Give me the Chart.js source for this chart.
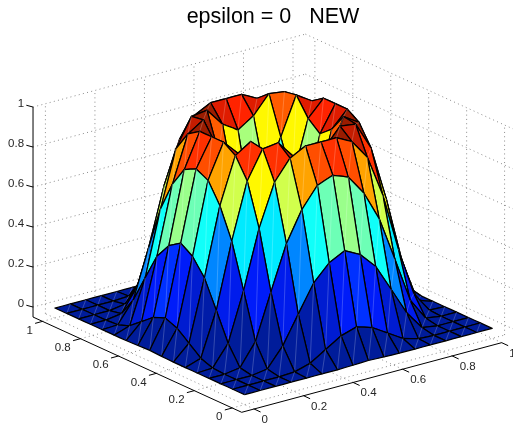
<!DOCTYPE html>
<html>
<head>
<meta charset="utf-8">
<style>
  html, body { margin: 0; padding: 0; background: #fff; }
  canvas { display: block; }
</style>
<script src="https://cdn.jsdelivr.net/npm/chart.js@4/dist/chart.umd.min.js"></script>
</head>
<body>
<canvas id="surf" width="513" height="424"></canvas>
<script>
const titleText = 'epsilon = 0   NEW';
const xTicks = [0, 0.2, 0.4, 0.6, 0.8, 1];
const yTicks = [0, 0.2, 0.4, 0.6, 0.8, 1];
const zTicks = [0, 0.2, 0.4, 0.6, 0.8, 1];
const gridStep = 0.0625;

// heights, one row per x, left to right is y = 0..1
const z00 = [0, 0, 0, 0, 0, 0, 0, .002, .005, .002, 0, 0, 0, 0, 0, 0, 0];
const z01 = [0, 0, 0, 0, .004, .026, .074, .122, .146, .122, .074, .026, .004, 0, 0, 0, 0];
const z02 = [0, 0, 0, .012, .107, .245, .38, .46, .50, .46, .38, .245, .107, .012, 0, 0, 0];
const z03 = [0, 0, .012, .122, .35, .57, .72, .82, .85, .82, .72, .57, .35, .122, .012, 0, 0];
const z04 = [0, .004, .107, .35, .64, .85, .95, .99, .99, .99, .95, .85, .64, .35, .107, .004, 0];
const z05 = [0, .026, .245, .57, .85, .99, 1, .91, .86, .91, 1, .99, .85, .57, .245, .026, 0];
const z06 = [0, .074, .38, .72, .95, 1, .81, .63, .53, .63, .81, 1, .95, .72, .38, .074, 0];
const z07 = [.002, .122, .46, .82, .99, .91, .63, .40, .30, .40, .63, .91, .99, .82, .46, .122, .002];
const z08 = [.005, .146, .50, .85, .99, .86, .53, .30, .25, .30, .53, .86, .99, .85, .50, .146, .005];
const z09 = [.002, .122, .46, .82, .99, .91, .63, .40, .30, .40, .63, .91, .99, .82, .46, .122, .002];
const z10 = [0, .074, .38, .72, .95, 1, .81, .63, .53, .63, .81, 1, .95, .72, .38, .074, 0];
const z11 = [0, .026, .245, .57, .85, .99, 1, .91, .86, .91, 1, .99, .85, .57, .245, .026, 0];
const z12 = [0, .004, .107, .35, .64, .85, .95, .99, .99, .99, .95, .85, .64, .35, .107, .004, 0];
const z13 = [0, 0, .012, .122, .35, .57, .72, .82, .85, .82, .72, .57, .35, .122, .012, 0, 0];
const z14 = [0, 0, 0, .012, .107, .245, .38, .46, .50, .46, .38, .245, .107, .012, 0, 0, 0];
const z15 = [0, 0, 0, 0, .004, .026, .074, .122, .146, .122, .074, .026, .004, 0, 0, 0, 0];
const z16 = [0, 0, 0, 0, 0, 0, 0, .002, .005, .002, 0, 0, 0, 0, 0, 0, 0];
const zRows = [z00, z01, z02, z03, z04, z05, z06, z07, z08, z09, z10, z11, z12, z13, z14, z15, z16];

// box limits and the fixed view of the 3d box
const LO = -0.05, HI = 1.05, ZLO = -0.05, ZHI = 1;
const BASE = [241.7, 412.3];
const EX = [247.6, -66.3];
const EY = [-189.7, -86.6];
const EZ = -200;

function project(x, y, z) {
    const dx = x - LO, dy = y - LO, dz = z - ZLO;
    return {
        x: BASE[0] + dx * EX[0] + dy * EY[0],
        y: BASE[1] + dx * EX[1] + dy * EY[1] + dz * EZ
    };
}

// jet, 64 levels, nudged towards how the screenshot renders it
function jet(v) {
    const idx = Math.min(63, Math.floor(v * 64));
    const t = (idx + 0.5) / 64;
    const clamp = (a) => Math.max(0, Math.min(1, a));
    const r = clamp(Math.min(4 * t - 1.5, -4 * t + 4.5));
    const g = clamp(Math.min(4 * t - 0.5, -4 * t + 3.5));
    const b = clamp(Math.min(4 * t + 0.5, -4 * t + 2.5));
    return [
        Math.round(255 * Math.pow(r, 0.8)),
        Math.round(28 + 227 * g),
        Math.round(255 * Math.pow(b, 0.8))
    ];
}

function lineSet(points, color, width, dash) {
    return {
        data: points,
        showLine: true,
        fill: false,
        borderColor: color,
        borderWidth: width,
        borderDash: dash || [],
        pointRadius: 0,
        clip: false
    };
}

const datasets = [];

// axis lines and ticks
const corner = project(LO, LO, ZLO);
datasets.push(lineSet([corner, project(1, LO, ZLO)], '#000', 1));
datasets.push(lineSet([corner, project(LO, HI, ZLO)], '#000', 1));
datasets.push(lineSet([project(LO, HI, ZLO), project(LO, HI, ZHI)], '#000', 1));
xTicks.forEach(v => {
    const p = project(v, LO, ZLO);
    datasets.push(lineSet([p, {x: p.x + 6.5, y: p.y + 3}], '#000', 1));
});
yTicks.forEach(v => {
    const p = project(LO, v, ZLO);
    datasets.push(lineSet([p, {x: p.x - 7.4, y: p.y + 2}], '#000', 1));
});
zTicks.forEach(v => {
    const p = project(LO, HI, v);
    datasets.push(lineSet([p, {x: p.x - 6.7, y: p.y - 1.8}], '#000', 1));
});

// first dataset ends up on top, so the faces go front to back
for (let i = 0; i < zRows.length - 1; i++) {
    for (let j = 0; j < zRows[i].length - 1; j++) {
        const x0 = i * gridStep, x1 = (i + 1) * gridStep;
        const y0 = j * gridStep, y1 = (j + 1) * gridStep;
        const a = project(x0, y0, zRows[i][j]);
        const b = project(x1, y0, zRows[i + 1][j]);
        const c = project(x1, y1, zRows[i + 1][j + 1]);
        const d = project(x0, y1, zRows[i][j + 1]);
        const col = jet(zRows[i][j]);
        const seam = col.map(n => Math.round(n + (255 - n) * 0.5));
        datasets.push(lineSet([a, c], `rgba(${seam[0]},${seam[1]},${seam[2]},0.6)`, 0.7));
        datasets.push({
            data: [a, b, c, d, a],
            showLine: true,
            fill: 'shape',
            tension: 0.001,
            backgroundColor: `rgb(${col[0]},${col[1]},${col[2]})`,
            borderColor: '#000',
            borderWidth: 1.25,
            borderJoinStyle: 'round',
            pointRadius: 0,
            clip: false
        });
    }
}

// dotted box grid behind everything
const DOT = [1, 3.3];
const GRID = '#6e6e6e';
zTicks.forEach(v => {
    datasets.push(lineSet([project(LO, HI, v), project(HI, HI, v)], GRID, 0.8, DOT));
    datasets.push(lineSet([project(HI, HI, v), project(HI, LO, v)], GRID, 0.8, DOT));
});
xTicks.forEach(v => {
    datasets.push(lineSet([project(v, HI, ZLO), project(v, HI, ZHI)], GRID, 0.8, DOT));
    datasets.push(lineSet([project(v, LO, ZLO), project(v, HI, ZLO)], GRID, 0.8, DOT));
});
yTicks.forEach(v => {
    datasets.push(lineSet([project(HI, v, ZLO), project(HI, v, ZHI)], GRID, 0.8, DOT));
    datasets.push(lineSet([project(LO, v, ZLO), project(HI, v, ZLO)], GRID, 0.8, DOT));
});

// tick labels sit at slanted spots no cartesian axis can give
const tickLabels = {
    id: 'tickLabels',
    afterDatasetsDraw(chart) {
        const {ctx, scales} = chart;
        const put = (text, p, dx, dy, align) => {
            ctx.textAlign = align;
            ctx.fillText(text, scales.x.getPixelForValue(p.x) + dx, scales.y.getPixelForValue(p.y) + dy);
        };
        ctx.save();
        ctx.font = '11.5px "Liberation Sans", Arial, sans-serif';
        ctx.fillStyle = '#262626';
        ctx.textBaseline = 'middle';
        xTicks.forEach(v => put(String(v), project(v, LO, ZLO), 7.5, 10.8, 'left'));
        yTicks.forEach(v => put(String(v), project(LO, v, ZLO), -9.7, 9.3, 'right'));
        zTicks.forEach(v => put(String(v), project(LO, HI, v), -9, -3, 'right'));
        ctx.restore();
    }
};

new Chart(document.getElementById('surf'), {
    type: 'scatter',
    data: {datasets: datasets},
    plugins: [tickLabels],
    options: {
        responsive: false,
        animation: false,
        events: [],
        layout: {padding: {left: 33}},
        plugins: {
            legend: {display: false},
            tooltip: {enabled: false},
            title: {
                display: true,
                text: titleText,
                fullSize: false,
                color: '#000',
                font: {family: '"Liberation Sans", Arial, sans-serif', size: 21.5, weight: 'normal', lineHeight: 1},
                padding: {top: 6, bottom: 2.5}
            }
        },
        scales: {
            x: {type: 'linear', display: false, min: 33, max: 513},
            y: {type: 'linear', display: false, min: 30, max: 424, reverse: true}
        }
    }
});
</script>
</body>
</html>
